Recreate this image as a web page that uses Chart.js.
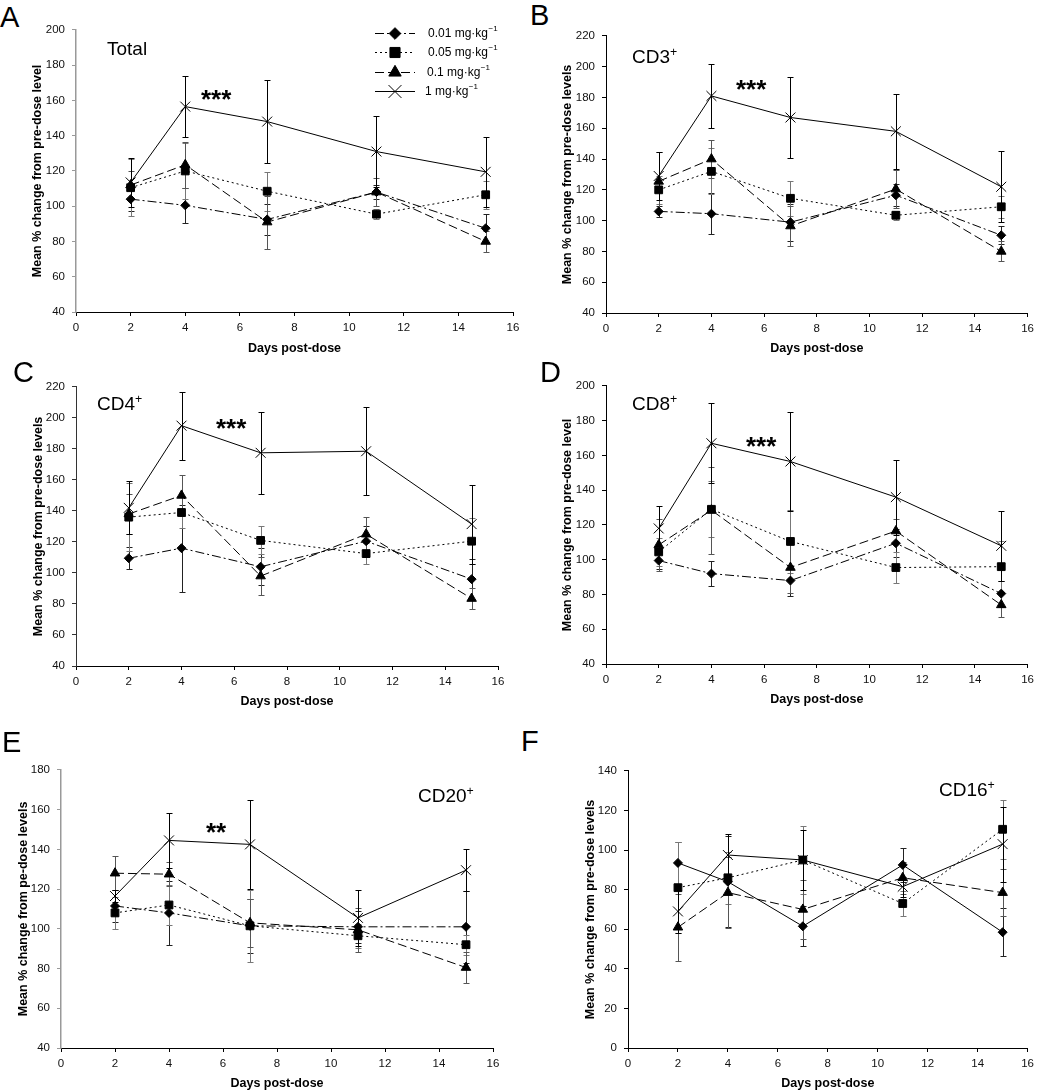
<!DOCTYPE html>
<html><head><meta charset="utf-8">
<script src="https://cdn.jsdelivr.net/npm/chart.js@4/dist/chart.umd.min.js"></script>
<style>
html,body{margin:0;padding:0;background:#fff;}
body{width:1039px;height:1091px;position:relative;overflow:hidden;font-family:'Liberation Sans',Arial,sans-serif;}
.cv{position:absolute;}
.t{position:absolute;line-height:1;white-space:nowrap;color:#000;}
</style></head><body>
<script>
// ---------------- DATA ----------------
const days = [2, 4, 7, 11, 15];
const doseLabels = ['0.01 mg·kg', '0.05 mg·kg', '0.1 mg·kg', '1 mg·kg'];
const doseUnitSup = '−1';
const xAxisTitle = 'Days post-dose';

// order of rows: 0.01, 0.05, 0.1, 1 mg·kg-1
const totalMeans = [[104, 100.5, 92.5, 108, 87.5], [110.5, 120, 108.5, 95.5, 106.5], [112, 123.5, 91, 108, 80], [113.5, 156.5, 148, 131, 119.5]];
const totalErrs  = [[6.5, 10, 9, 4, 8], [16, 16, 11, 3, 8], [8, 13, 15, 8, 6], [14, 17.5, 23.5, 20, 20]];

const cd3Means = [[106, 104.5, 99, 116.5, 90.5], [120, 132, 114.5, 103.5, 109], [125.5, 140, 96.5, 120.5, 80], [129, 181, 167, 158, 122]];
const cd3Errs  = [[3.5, 13.5, 12, 7, 6], [9, 15, 11.5, 3, 7], [19, 12.5, 13, 12.5, 6.5], [15.5, 21, 26, 24.5, 23]];

const cd4Means = [[109.5, 116, 104, 120.5, 96], [136, 139, 121, 112.5, 120.5], [138, 150, 98, 125, 83.5], [142, 195, 177.5, 178.5, 131.5]];
const cd4Errs  = [[7, 28, 12, 10, 13], [22, 10, 9, 7, 15], [13, 13, 12, 11, 7], [17, 22, 26.5, 28.5, 25.5]];

const cd8Means = [[99.5, 92, 88, 109.5, 80.5], [104.5, 129, 110.5, 95.5, 96], [108.5, 128.5, 95.5, 116.5, 74], [118, 167, 156.5, 136, 108]];
const cd8Errs  = [[5, 7, 9, 8, 7.5], [8, 16, 18, 9, 15], [15, 25, 14.5, 7, 7], [13, 23, 28.5, 21.5, 20]];

const cd20Means = [[111.5, 108, 101.5, 101, 101], [108, 112, 101.5, 96.5, 92], [128, 127.5, 103, 99.5, 80.5], [116.5, 144.5, 142.5, 105.5, 129.5]];
const cd20Errs  = [[8, 16, 13.5, 8, 18], [8, 10, 18, 6, 5], [8.5, 6, 12, 11, 8], [3, 14, 22.5, 14, 10.5]];

const cd16Means = [[93.5, 84, 61.5, 92.5, 58.5], [81, 86, 95, 73, 110.5], [61, 78.5, 70, 86, 78.5], [69, 97.5, 95, 81.5, 103]];
const cd16Errs  = [[10.5, 23, 10, 8.5, 12], [23, 13, 17, 6.5, 15], [17, 18, 15, 8, 12], [11, 10.5, 15, 5, 19]];

const yTitles = ['Mean % change from pre-dose level', 'Mean % change from pre-dose levels', 'Mean % change from pre-dose levels',
                 'Mean % change from pre-dose level', 'Mean % change from pe-dose levels', 'Mean % change from pre-dose levels'];
const yRanges = [[40, 200], [40, 220], [40, 220], [40, 200], [40, 180], [0, 140]];

// ---------------- STYLES ----------------
const FONT = "'Liberation Sans', Arial, sans-serif";
const seriesStyles = [
  {pointStyle: 'rectRot', radius: 4.5, dash: [9, 3, 2, 3], err: '#222'},
  {pointStyle: 'rect', radius: 5.5, dash: [2, 3], err: '#777'},
  {pointStyle: 'triangle', radius: 5.5, dash: [9, 4], err: '#555'},
  {pointStyle: 'crossRot', radius: 7, dash: [], err: '#000'}
];

const panels = [
  {means: totalMeans, errs: totalErrs, box: {x: 30, y: 16, w: 498, h: 340}, yw: 46, xh: 44, padTop: 12, padRight: 15, yColor: '#999', yWidth: 1.5, legend: true},
  {means: cd3Means, errs: cd3Errs, box: {x: 560, y: 22, w: 479, h: 334}, yw: 46, xh: 43, padTop: 12, padRight: 7, yColor: '#000', yWidth: 1},
  {means: cd4Means, errs: cd4Errs, box: {x: 31, y: 373, w: 482, h: 336}, yw: 45, xh: 43, padTop: 12, padRight: 15, yColor: '#333', yWidth: 1},
  {means: cd8Means, errs: cd8Errs, box: {x: 560, y: 372, w: 479, h: 335}, yw: 46, xh: 43, padTop: 12, padRight: 7, yColor: '#000', yWidth: 1},
  {means: cd20Means, errs: cd20Errs, box: {x: 16, y: 756, w: 492, h: 335}, yw: 45, xh: 43, padTop: 12, padRight: 15, yColor: '#999', yWidth: 1.5},
  {means: cd16Means, errs: cd16Errs, box: {x: 583, y: 757, w: 456, h: 334}, yw: 45, xh: 43, padTop: 12, padRight: 7, yColor: '#000', yWidth: 1, solidLow: true}
];

// ---------------- PLUGINS ----------------
const errorBarPlugin = {
  id: 'errbars',
  beforeDatasetsDraw(chart) {
    const {ctx} = chart; const x = chart.scales.x, y = chart.scales.y;
    chart.data.datasets.forEach(ds => {
      if (!ds.errors) return;
      ctx.save(); ctx.strokeStyle = ds.errorColor; ctx.lineWidth = 1; ctx.setLineDash([]);
      ds.data.forEach((p, i) => {
        const e = ds.errors[i];
        const px = Math.round(x.getPixelForValue(p.x)) + 0.5;
        const top = Math.round(y.getPixelForValue(p.y + e)) + 0.5;
        const bot = Math.round(y.getPixelForValue(p.y - e)) + 0.5;
        ctx.beginPath();
        ctx.moveTo(px, top); ctx.lineTo(px, bot);
        ctx.moveTo(px - 3, top); ctx.lineTo(px + 3, top);
        ctx.moveTo(px - 3, bot); ctx.lineTo(px + 3, bot);
        ctx.stroke();
      });
      ctx.restore();
    });
  }
};

function marker(ctx, style, x, y, r) {
  if (Chart.helpers && Chart.helpers.drawPoint) {
    Chart.helpers.drawPoint(ctx, {pointStyle: style, radius: r, borderWidth: 1, rotation: 0}, x, y);
    return;
  }
  ctx.beginPath();
  if (style === 'rectRot') { ctx.moveTo(x, y - r); ctx.lineTo(x + r, y); ctx.lineTo(x, y + r); ctx.lineTo(x - r, y); ctx.closePath(); ctx.fill(); }
  else if (style === 'rect') { const s = r * Math.SQRT1_2; ctx.fillRect(x - s, y - s, 2 * s, 2 * s); }
  else if (style === 'triangle') { ctx.moveTo(x, y - r); ctx.lineTo(x + r * 0.866, y + r / 2); ctx.lineTo(x - r * 0.866, y + r / 2); ctx.closePath(); ctx.fill(); }
  else { const s = r * Math.SQRT1_2; ctx.moveTo(x - s, y - s); ctx.lineTo(x + s, y + s); ctx.moveTo(x + s, y - s); ctx.lineTo(x - s, y + s); ctx.stroke(); }
}

const legendPlugin = {
  id: 'doseLegend',
  afterDraw(chart, args, opts) {
    if (!opts || !opts.show) return;
    const ctx = chart.ctx;
    ctx.save();
    doseLabels.forEach((lab, i) => {
      const st = seriesStyles[i];
      const y = opts.rows[i] - opts.oy;
      const x0 = opts.lineX0 - opts.ox, x1 = opts.lineX1 - opts.ox;
      ctx.strokeStyle = '#000'; ctx.fillStyle = '#000'; ctx.lineWidth = 1;
      ctx.setLineDash(st.dash);
      ctx.beginPath(); ctx.moveTo(x0, y + 0.5); ctx.lineTo(x1, y + 0.5); ctx.stroke();
      ctx.setLineDash([]);
      marker(ctx, st.pointStyle, (x0 + x1) / 2, y + 0.5, st.radius * 1.3);
      const tx = opts.textX[i] - opts.ox;
      ctx.font = '12px ' + FONT; ctx.textBaseline = 'middle'; ctx.textAlign = 'left';
      ctx.fillText(lab, tx, y + 1);
      const w = ctx.measureText(lab).width;
      ctx.font = '8px ' + FONT;
      ctx.fillText(doseUnitSup, tx + w + 0.5, y - 4);
    });
    ctx.restore();
  }
};

// ---------------- CHARTS ----------------
panels.forEach((p, pi) => {
  const c = document.createElement('canvas');
  c.className = 'cv';
  c.width = p.box.w; c.height = p.box.h;
  c.style.left = p.box.x + 'px'; c.style.top = p.box.y + 'px';
  c.style.width = p.box.w + 'px'; c.style.height = p.box.h + 'px';
  document.body.appendChild(c);

  const datasets = p.means.map((m, i) => {
    const st = seriesStyles[i];
    const dash = (p.solidLow && i === 0) ? [] : st.dash;
    return {
      label: doseLabels[i],
      data: days.map((d, k) => ({x: d, y: m[k]})),
      errors: p.errs[i],
      errorColor: st.err,
      borderColor: '#000', backgroundColor: '#000', borderWidth: 1, borderDash: dash,
      pointStyle: st.pointStyle, pointRadius: st.radius, pointBorderWidth: 1,
      pointBackgroundColor: '#000', pointBorderColor: '#000',
      tension: 0, fill: false
    };
  });

  const [ymin, ymax] = yRanges[pi];
  new Chart(c, {
    type: 'line',
    data: {datasets},
    plugins: [errorBarPlugin, legendPlugin],
    options: {
      responsive: false, animation: false, devicePixelRatio: 1,
      layout: {padding: {top: p.padTop, right: p.padRight, left: 0, bottom: 0}},
      plugins: {
        legend: {display: false}, tooltip: {enabled: false},
        doseLegend: p.legend ? {show: true, ox: p.box.x, oy: p.box.y, rows: [33, 52, 72, 91], lineX0: 375, lineX1: 415, textX: [428, 428, 427, 425]} : {show: false}
      },
      scales: {
        x: {
          type: 'linear', min: 0, max: 16,
          ticks: {stepSize: 2, color: '#111', font: {family: FONT, size: 11.5}, padding: 5, maxRotation: 0},
          grid: {drawOnChartArea: false, drawTicks: true, tickLength: 4, color: '#000'},
          border: {color: '#000', width: 1},
          title: {display: true, text: xAxisTitle, color: '#000', font: {family: FONT, size: 12.5, weight: 'bold'}, padding: 0},
          afterFit(s) { s.height = p.xh; }
        },
        y: {
          min: ymin, max: ymax,
          ticks: {stepSize: 20, color: '#111', font: {family: FONT, size: 11.5}, padding: 7},
          grid: {drawOnChartArea: false, drawTicks: true, tickLength: 4, color: p.yColor},
          border: {color: p.yColor, width: p.yWidth},
          title: {display: true, text: yTitles[pi], color: '#000', font: {family: FONT, size: 12.5, weight: 'bold'}, padding: 0},
          afterFit(s) { s.width = p.yw; }
        }
      }
    }
  });
});

// ---------------- TEXT OVERLAYS ----------------
const panelLetters = ['A', 'B', 'C', 'D', 'E', 'F'];
const letterPos = [[0, 28], [530, 26], [13, 383], [540, 383], [2, 753], [521, 752]];
const subTitles = [['Total', ''], ['CD3', '+'], ['CD4', '+'], ['CD8', '+'], ['CD20', '+'], ['CD16', '+']];
const subPos = [[107, 55], [632, 63], [97, 410], [632, 410], [418, 802], [939, 796]];
const stars = ['***', '***', '***', '***', '**', ''];
const starPos = [[201, 108], [736, 98], [216, 437], [746, 455], [206, 841], [0, 0]];

function addText(text, x, base, size, bold, sup) {
  if (!text) return;
  const d = document.createElement('div');
  d.className = 't';
  d.style.left = x + 'px';
  d.style.top = (base - 0.8465 * size) + 'px';
  d.style.fontSize = size + 'px';
  if (bold) d.style.fontWeight = 'bold';
  d.textContent = text;
  if (sup) {
    const s = document.createElement('span');
    s.style.fontSize = '65%'; s.style.position = 'relative'; s.style.top = '-0.6em';
    s.textContent = sup; d.appendChild(s);
  }
  document.body.appendChild(d);
}
panelLetters.forEach((l, i) => addText(l, letterPos[i][0], letterPos[i][1], 29, false));
subTitles.forEach((s, i) => addText(s[0], subPos[i][0], subPos[i][1], 19, false, s[1]));
stars.forEach((s, i) => addText(s, starPos[i][0], starPos[i][1], 26, true));
</script>
</body></html>
